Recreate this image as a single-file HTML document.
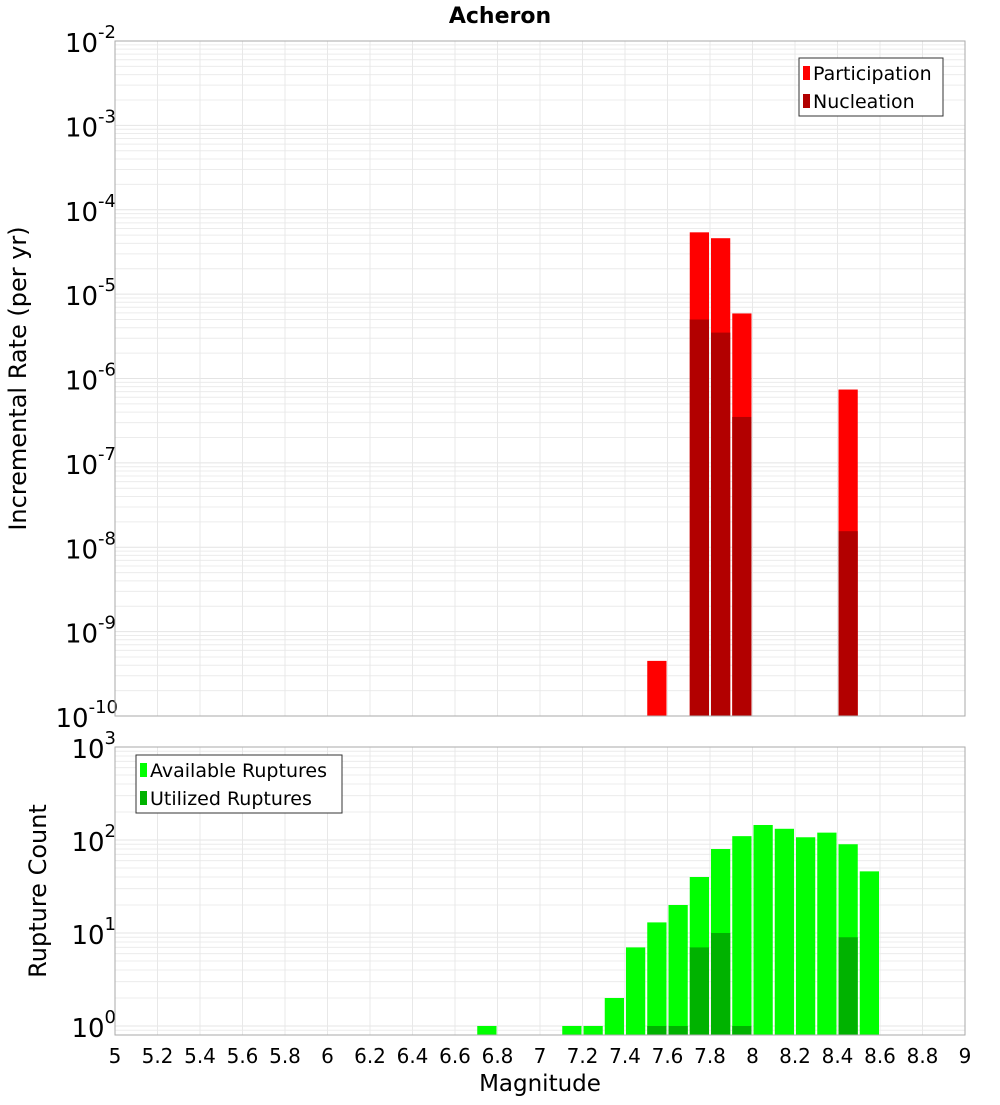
<!DOCTYPE html>
<html><head><meta charset="utf-8"><style>
body{margin:0;background:#fff;font-family:"Liberation Sans","DejaVu Sans",sans-serif}
</style></head><body>
<svg id="chart" width="1000" height="1100" xmlns="http://www.w3.org/2000/svg" font-family="DejaVu Sans, Liberation Sans, sans-serif">
<text x="500" y="23" text-anchor="middle" font-weight="bold" font-size="22">Acheron</text>
<g id="top"></g>
<g id="bot"></g>
</svg>
<script>
const bins = [7.55, 7.75, 7.85, 7.95, 8.45];
const participation = [4.5e-10, 5.4e-5, 4.6e-5, 5.9e-6, 7.4e-7];
const nucleation = [0, 5.0e-6, 3.5e-6, 3.5e-7, 1.55e-8];
const countBins = [6.75, 7.15, 7.25, 7.35, 7.45, 7.55, 7.65, 7.75, 7.85, 7.95, 8.05, 8.15, 8.25, 8.35, 8.45, 8.55];
const available = [1, 1, 1, 2, 7, 13, 20, 40, 80, 110, 145, 132, 107, 120, 90, 46];
const utilized = [0, 0, 0, 0, 0, 1, 1, 7, 10, 1, 0, 0, 0, 0, 9, 0];
const xTicks = [5,5.2,5.4,5.6,5.8,6,6.2,6.4,6.6,6.8,7,7.2,7.4,7.6,7.8,8,8.2,8.4,8.6,8.8,9];

const NS='http://www.w3.org/2000/svg';
function mk(parent,tag,attrs){const e=document.createElementNS(NS,tag);for(const k in attrs)e.setAttribute(k,attrs[k]);parent.appendChild(e);return e;}
const X0=115,X1=965;
const xs=v=>X0+(v-5)/4*(X1-X0);
function panel(g,top,bot,lmin,lmax,label,labelY){
  const ys=v=>bot-(Math.log10(v)-lmin)/(lmax-lmin)*(bot-top);
  for(let d=Math.floor(lmin);d<lmax;d++){for(let m=1;m<10;m++){const v=m*Math.pow(10,d);if(Math.log10(v)<lmin||Math.log10(v)>lmax)continue;const y=ys(v);
    const l=mk(g,'line',{x1:X0,x2:X1,y1:y,y2:y,stroke:m===1?'#e4e4e4':'#ececec','stroke-width':1});
    }}
  xTicks.forEach(t=>{const x=xs(t);const l=mk(g,'line',{x1:x,x2:x,y1:top,y2:bot,stroke:'#e8e8e8','stroke-width':1});
    });
  for(let d=Math.ceil(lmin);d<=Math.floor(lmax);d++){const y=ys(Math.pow(10,d));
    const t=mk(g,'text',{x:d<=-10?118:116,y:y+11,'text-anchor':'end','font-size':26});
    
    t.textContent='10';const s=mk(t,'tspan',{dy:-14,'font-size':18});s.textContent=String(d);}
  const yl=mk(g,'text',{x:0,y:0,transform:`translate(${labelY},${(top+bot)/2}) rotate(-90)`,'text-anchor':'middle','font-size':24});
  yl.textContent=label;
  return ys;
}
function frame(g,top,bot){const r=mk(g,'rect',{x:X0,y:top,width:X1-X0,height:bot-top,fill:'none',stroke:'#aaa','stroke-width':1});
  }
function bar(g,c,v,ys,bot,fill,name){if(!(v>0))return;const x=xs(c-0.05)+1,w=xs(c+0.05)-xs(c-0.05)-2,y=ys(v);
  const r=mk(g,'rect',{x:x,y:y,width:w,height:bot-y,fill:fill});}
function legend(g,x,y,w,items){const r=mk(g,'rect',{x:x,y:y,width:w,height:58,fill:'#fff',stroke:'#333','stroke-width':1});
  
  items.forEach((it,i)=>{const yy=y+16+i*28;const s=mk(g,'rect',{x:x+4,y:yy-8,width:7,height:14,fill:it[1]});
    
    const t=mk(g,'text',{x:x+14,y:yy+6,'font-size':19});t.textContent=it[0];});}

const gt=document.getElementById('top');
const T0=41,T1=716;
const ysT=panel(gt,T0,T1,-10,-2,'Incremental Rate (per yr)',26);
bins.forEach((c,i)=>bar(gt,c,participation[i],ysT,T1,'#ff0000','participation-bar'));
bins.forEach((c,i)=>bar(gt,c,nucleation[i],ysT,T1,'#b20000','nucleation-bar'));
frame(gt,T0,T1);
legend(gt,799,58,144,[['Participation','#ff0000'],['Nucleation','#b20000']]);

const gb=document.getElementById('bot');
const B0=747,B1=1035;
const ysB=panel(gb,B0,B1,Math.log10(0.8),3,'Rupture Count',46);
countBins.forEach((c,i)=>bar(gb,c,available[i],ysB,B1,'#00ff00','available-bar'));
countBins.forEach((c,i)=>bar(gb,c,utilized[i],ysB,B1,'#00b200','utilized-bar'));
frame(gb,B0,B1);
legend(gb,136,755,206,[['Available Ruptures','#00ff00'],['Utilized Ruptures','#00b200']]);
xTicks.forEach(t=>{const x=xs(t);const tx=mk(gb,'text',{x:x,y:1063,'text-anchor':'middle','font-size':20});
  tx.textContent=String(t);});
const xl=mk(gb,'text',{x:540,y:1091,'text-anchor':'middle','font-size':23});
xl.textContent='Magnitude';
</script>
</body></html>
